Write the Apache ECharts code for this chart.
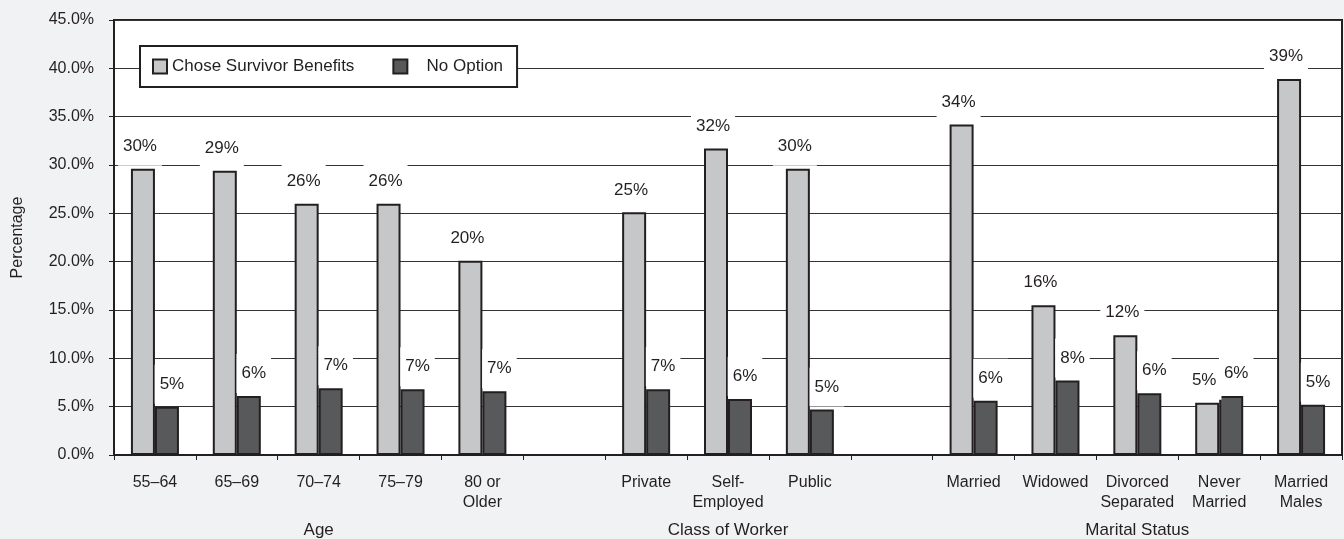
<!DOCTYPE html>
<html>
<head>
<meta charset="utf-8">
<script src="https://cdn.jsdelivr.net/npm/echarts@6/dist/echarts.min.js"></script>
<style>
    html, body { margin: 0; padding: 0; background: #f1f2f4; }
    #chart_01 { width: 1344px; height: 539px; }
</style>
</head>
<body>
<div id="chart_01"></div>
<script>
// categories (empty slots separate the three groups)
var categories = ['55–64', '65–69', '70–74', '75–79', '80 or\nOlder', '',
    'Private', 'Self-\nEmployed', 'Public', '',
    'Married', 'Widowed', 'Divorced\nSeparated', 'Never\nMarried', 'Married\nMales'];
var survivorBenefits = [29.6, 29.4, 26.0, 26.0, 20.1, null, 25.1, 31.7, 29.6, null, 34.2, 15.5, 12.4, 5.4, 38.9];
var noOption = [5.0, 6.1, 6.9, 6.8, 6.6, null, 6.8, 5.8, 4.7, null, 5.6, 7.7, 6.4, 6.1, 5.2];
// group captions and the first/last category index each one spans
var groupNames = ['Age', 'Class of Worker', 'Marital Status'];
var groupStart = [0, 6, 10];
var groupEnd = [4, 8, 14];

var FONT = "'Liberation Sans', Arial, sans-serif";
var INK = '#231f20';

var myChart = echarts.init(document.getElementById('chart_01'));

function barLabel(dx){
    return {
        show: true,
        position: 'top',
        distance: 3,
        offset: [dx, 0],
        formatter: function(p){ return Math.round(p.value) + '%'; },
        color: INK,
        fontFamily: FONT,
        fontSize: 17,
        backgroundColor: '#fff',
        padding: [11, 5]
    };
}

var option = {
    backgroundColor: '#f1f2f4',
    animation: false,
    grid: {
        left: 114,
        right: 2,
        top: 20,
        bottom: 84,
        outerBoundsMode: 'none',
        show: true,
        backgroundColor: '#fff',
        borderColor: INK,
        borderWidth: 2
    },
    legend: {
        left: 140,
        top: 46,
        icon: 'rect',
        data: ['Chose Survivor Benefits', 'No Option'],
        formatter: function(name){
            return name === 'No Option' ? '   ' + name : name;
        },
        itemWidth: 14,
        itemHeight: 14,
        itemGap: 38,
        padding: [12, 14, 12, 12],
        backgroundColor: '#fff',
        borderColor: INK,
        borderWidth: 2,
        textStyle: { color: INK, fontFamily: FONT, fontSize: 17 }
    },
    xAxis: {
        type: 'category',
        data: categories,
        axisLine: { lineStyle: { color: INK, width: 2 } },
        axisTick: { show: true, length: 5, lineStyle: { color: INK } },
        axisLabel: {
            interval: 0,
            margin: 18,
            color: INK,
            fontFamily: FONT,
            fontSize: 16,
            lineHeight: 20
        }
    },
    yAxis: {
        type: 'value',
        min: 0,
        max: 45,
        interval: 5,
        name: 'Percentage',
        nameLocation: 'middle',
        nameRotate: 90,
        nameGap: 88,
        nameTextStyle: { color: INK, fontFamily: FONT, fontSize: 16 },
        axisLine: { show: true, lineStyle: { color: INK, width: 2 } },
        axisTick: { show: true, length: 5, lineStyle: { color: INK } },
        axisLabel: {
            margin: 20,
            color: INK,
            fontFamily: FONT,
            fontSize: 16,
            formatter: function(v){ return v.toFixed(1) + '%'; }
        },
        splitLine: { lineStyle: { color: '#333', width: 1 } }
    },
    series: [
        {
            name: 'Chose Survivor Benefits',
            type: 'bar',
            data: survivorBenefits,
            barWidth: 24,
            barGap: '0%',
            itemStyle: { color: '#c6c7c8', borderColor: INK, borderWidth: 2 },
            label: barLabel(-3)
        },
        {
            name: 'No Option',
            type: 'bar',
            data: noOption,
            barWidth: 24,
            itemStyle: { color: '#58595b', borderColor: INK, borderWidth: 2 },
            label: barLabel(5)
        }
    ]
};
myChart.setOption(option);

// group captions under the category labels, centred on their categories
var captions = groupNames.map(function(name, i){
    var x0 = myChart.convertToPixel({ xAxisIndex: 0 }, groupStart[i]);
    var x1 = myChart.convertToPixel({ xAxisIndex: 0 }, groupEnd[i]);
    return {
        type: 'text',
        x: (x0 + x1) / 2,
        y: 530,
        style: {
            text: name,
            fill: INK,
            font: '17px ' + FONT,
            align: 'center',
            verticalAlign: 'middle'
        }
    };
});
myChart.setOption({ graphic: captions });
</script>
</body>
</html>
